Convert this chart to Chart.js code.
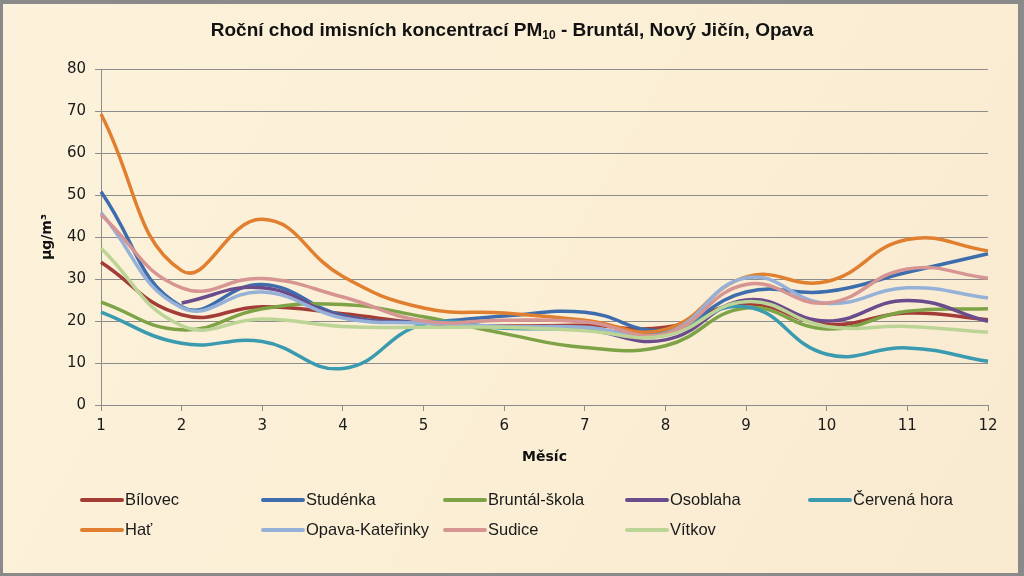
<!DOCTYPE html>
<html>
<head>
<meta charset="utf-8">
<script src="https://cdn.jsdelivr.net/npm/chart.js@4/dist/chart.umd.min.js"></script>
<style>
  html, body { margin: 0; padding: 0; background: #8a8a8a; }
  #wrap { width: 1024px; height: 576px; }
</style>
</head>
<body>
<div id="wrap"><canvas id="c" width="1024" height="576"></canvas></div>
<script>
// ---- data ----
const months = ['1','2','3','4','5','6','7','8','9','10','11','12'];
const yTicks = [0,10,20,30,40,50,60,70,80];
const seriesNames = ['Bílovec','Studénka','Bruntál-škola','Osoblaha','Červená hora','Hať','Opava-Kateřinky','Sudice','Vítkov'];
const bilovec  = [34.0, 21.5, 23.4, 21.7, 19.5, 18.8, 19.0, 18.5, 24.1, 19.2, 21.9, 20.3];
const studenka = [50.8, 23.4, 28.7, 21.3, 19.9, 21.2, 22.1, 17.9, 26.9, 27.0, 31.6, 36.0];
const bruntal  = [24.5, 17.9, 22.9, 23.9, 21.0, 17.0, 13.7, 14.1, 23.1, 18.1, 22.3, 22.9];
const osoblaha = [null, 24.3, 27.9, 21.0, 19.5, 18.5, 18.0, 15.5, 25.0, 20.0, 24.9, 19.9];
const cervena  = [22.1, 14.7, 15.1, 8.7, 19.2, 18.3, 18.0, 17.3, 23.4, 12.1, 13.6, 10.4];
const hat      = [69.3, 32.0, 44.2, 30.6, 23.1, 21.9, 20.2, 18.0, 30.5, 29.4, 39.4, 36.7];
const opava    = [45.8, 23.2, 26.9, 20.7, 19.5, 18.7, 18.5, 17.0, 30.3, 24.2, 27.9, 25.5];
const sudice   = [45.3, 27.9, 30.1, 25.7, 20.0, 20.2, 19.8, 17.0, 28.7, 24.3, 32.4, 30.2];
const vitkov   = [37.3, 18.9, 20.5, 18.7, 18.5, 18.5, 17.7, 16.5, 24.6, 18.7, 18.7, 17.3];
const seriesValues = [bilovec, studenka, bruntal, osoblaha, cervena, hat, opava, sudice, vitkov];
const seriesColors = ['#A33B37','#3E6DAD','#7DA346','#6A4B8C','#3A9AB0','#E07F2F','#95B1D8','#D69492','#BDD497'];

const TICK_FONT = '"DejaVu Sans", Verdana, sans-serif';
const CAL_FONT = '"Liberation Sans Narrow", "Liberation Sans", Arial, sans-serif';

const decor = {
  id: 'decor',
  beforeDraw(chart) {
    const ctx = chart.ctx;
    ctx.save();
    ctx.fillStyle = '#8a8a8a';
    ctx.fillRect(0, 0, 1024, 576);
    const g = ctx.createLinearGradient(0, 0, 1024, 576);
    g.addColorStop(0, '#FCF1DA');
    g.addColorStop(0.5, '#FBEFD6');
    g.addColorStop(1, '#F8EAD0');
    ctx.fillStyle = g;
    ctx.fillRect(3, 4, 1015, 569);
    ctx.restore();
  },
  afterDraw(chart) {
    const ctx = chart.ctx;
    const ca = chart.chartArea;
    ctx.save();
    // title with subscript
    const p1 = 'Roční chod imisních koncentrací PM';
    const sub = '10';
    const p2 = ' - Bruntál, Nový Jičín, Opava';
    const mainFont = 'bold 19px ' + CAL_FONT;
    const subFont = 'bold 12px ' + CAL_FONT;
    ctx.font = mainFont;
    const w1 = ctx.measureText(p1).width, w3 = ctx.measureText(p2).width;
    ctx.font = subFont;
    const w2 = ctx.measureText(sub).width;
    let x = 512 - (w1 + w2 + w3) / 2;
    const ty = 31;
    ctx.fillStyle = '#111';
    ctx.textBaseline = 'middle';
    ctx.textAlign = 'left';
    ctx.font = mainFont; ctx.fillText(p1, x, ty); x += w1;
    ctx.font = subFont; ctx.fillText(sub, x, ty + 5); x += w2;
    ctx.font = mainFont; ctx.fillText(p2, x, ty);

    // axis titles
    ctx.font = 'bold 14px ' + TICK_FONT;
    ctx.fillStyle = '#111';
    ctx.textAlign = 'center';
    ctx.fillText('Měsíc', (ca.left + ca.right) / 2, 457);
    ctx.save();
    ctx.translate(47, (ca.top + ca.bottom) / 2);
    ctx.rotate(-Math.PI / 2);
    ctx.fillText('µg/m³', 0, 0);
    ctx.restore();

    // legend
    const colX = [82, 263, 445, 627, 810];
    const rowY = [500, 530];
    ctx.font = '16.5px ' + CAL_FONT;
    ctx.textAlign = 'left';
    chart.data.datasets.forEach((ds, i) => {
      const cx = colX[i % 5], cy = rowY[Math.floor(i / 5)];
      ctx.strokeStyle = ds.borderColor;
      ctx.lineWidth = 4;
      ctx.lineCap = 'round';
      ctx.beginPath();
      ctx.moveTo(cx, cy);
      ctx.lineTo(cx + 40, cy);
      ctx.stroke();
      ctx.fillStyle = '#1a1a1a';
      ctx.fillText(ds.label, cx + 43, cy);
    });
    ctx.restore();
  }
};

const datasets = seriesNames.map((name, i) => ({
  label: name,
  data: seriesValues[i],
  borderColor: seriesColors[i],
  backgroundColor: seriesColors[i],
  borderWidth: 3.5,
  pointRadius: 0,
  pointHoverRadius: 0,
  tension: 0.45,
  fill: false,
  order: seriesNames.length - i
}));

new Chart(document.getElementById('c'), {
  type: 'line',
  data: { labels: months, datasets },
  plugins: [decor],
  options: {
    responsive: false,
    devicePixelRatio: 1,
    animation: false,
    layout: { padding: { left: 0, top: 69, right: 36, bottom: 0 } },
    plugins: { legend: { display: false }, title: { display: false }, tooltip: { enabled: false } },
    scales: {
      x: {
        type: 'category',
        offset: false,
        afterFit(s) { s.height = 171; },
        grid: { display: true, drawOnChartArea: false, drawTicks: true, tickLength: 6, color: '#8c8c8c' },
        border: { display: true, color: '#8c8c8c', width: 1 },
        ticks: { color: '#1a1a1a', font: { family: TICK_FONT, size: 15 }, padding: 6, maxRotation: 0, autoSkip: false }
      },
      y: {
        min: 0, max: 80,
        afterFit(s) { s.width = 101; },
        afterBuildTicks(s) { s.ticks = yTicks.map(v => ({ value: v })); },
        grid: { color: '#8c8c8c', lineWidth: 1, tickLength: 6 },
        border: { display: true, color: '#8c8c8c', width: 1 },
        ticks: { color: '#1a1a1a', font: { family: TICK_FONT, size: 15 }, padding: 9 }
      }
    }
  }
});
</script>
</body>
</html>
